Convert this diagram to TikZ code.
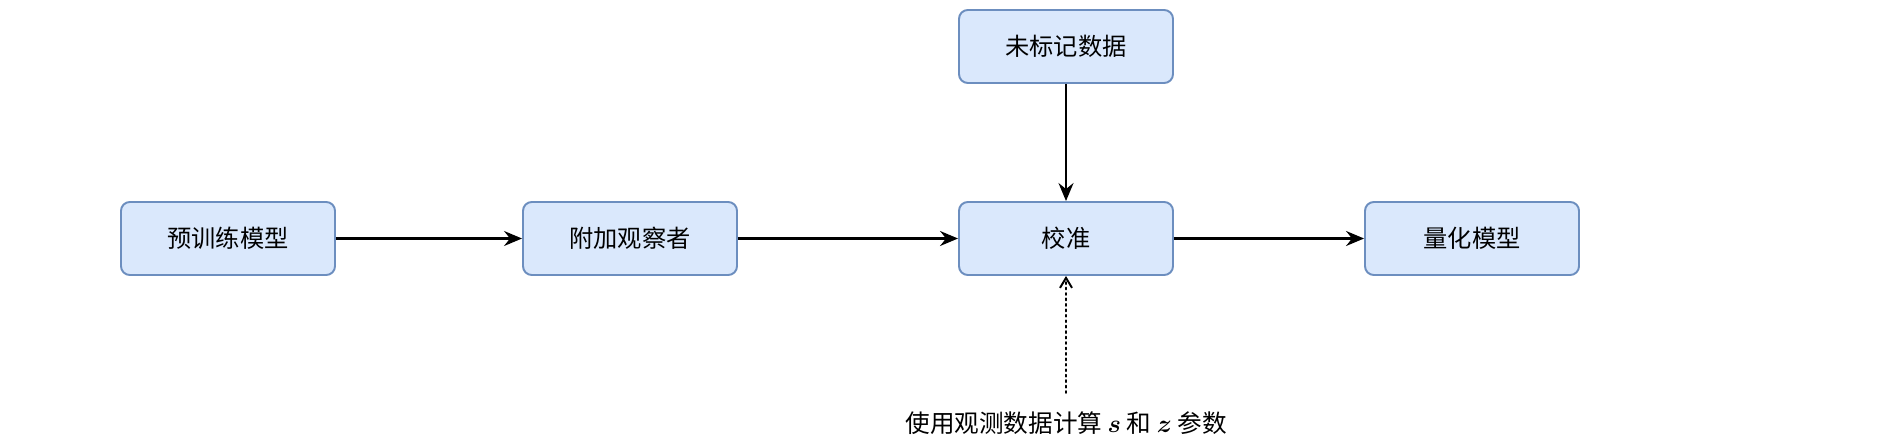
\documentclass[tikz,border=0pt]{standalone}
\usepackage{amsmath}
\usepackage{bm}
\usepackage{fontspec}
\setmainfont{Noto Sans CJK SC}
\usepackage{tikz}
\usetikzlibrary{arrows.meta,positioning}
\definecolor{boxfill}{HTML}{DAE8FC}
\definecolor{boxline}{HTML}{6C8EBF}
\tikzset{
  stage/.style={draw=boxline, fill=boxfill, rounded corners=5pt, line width=1.1pt, minimum width=4.28cm, minimum height=1.46cm, align=center, inner sep=0pt, font=\fontsize{13.8}{16}\selectfont},
  ar/.style={-{Stealth[length=3.6mm, width=3mm, inset=1.2mm]}, line width=1.2pt, draw=black},
  dotar/.style={-{Straight Barb[length=2mm, width=2.4mm]}, line width=1.1pt, dotted, draw=black},
  note/.style={font=\fontsize{14}{16}\selectfont, inner sep=0pt},
}
\begin{document}
\begin{tikzpicture}
    \useasboundingbox (0,0) rectangle (37.88,8.8);
    \node[stage] (pre) at (4.56,4.03) {预训练模型};
    \node[stage] (obs) at (12.6,4.03) {附加观察者};
    \node[stage] (cal) at (21.32,4.03) {校准};
    \node[stage] (qnt) at (29.44,4.03) {量化模型};
    \node[stage] (unl) at (21.32,7.87) {未标记数据};
    \node[note] (par) at (21.32,0.34) {使用观测数据计算 $\bm{s}$ 和 $\bm{z}$ 参数};
    \coordinate (src) at (21.32,0.94);
    \draw[ar] (pre) -- (obs);
    \draw[ar] (obs) -- (cal);
    \draw[ar] (cal) -- (qnt);
    \draw[ar] (unl) -- (cal);
    \draw[dotar, line cap=round] (src) -- (cal);
  \end{tikzpicture}
\end{document}
